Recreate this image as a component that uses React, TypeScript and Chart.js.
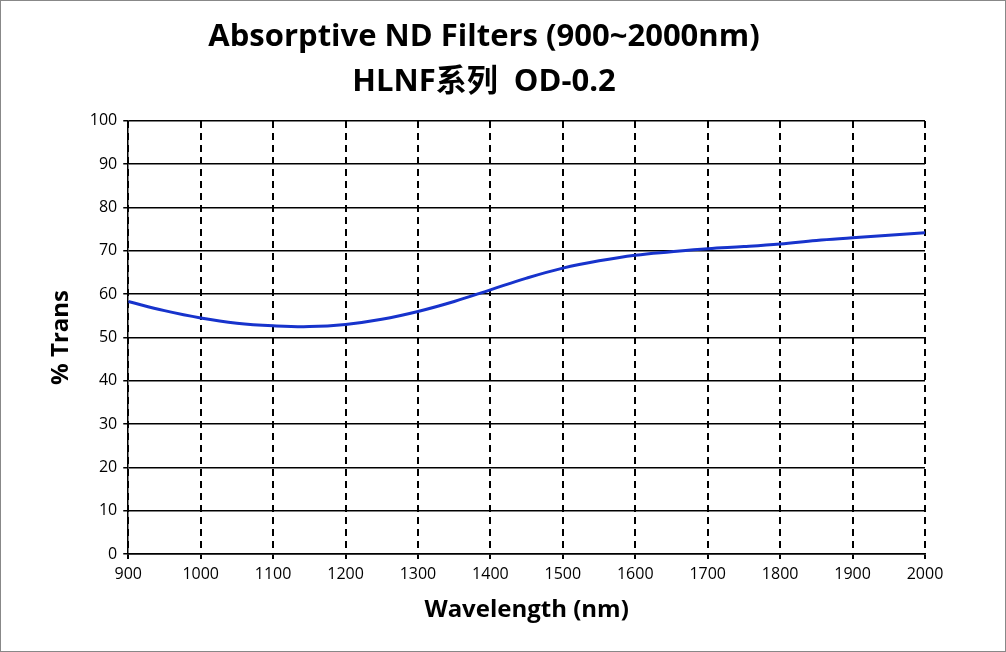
import React, { useEffect, useRef } from "react";
import { Chart, registerables } from "chart.js";
Chart.register(...registerables);

const wavelengths = [900, 950, 1000, 1050, 1100, 1150, 1200, 1250, 1300, 1350, 1400, 1450, 1500, 1550, 1600, 1650, 1700, 1750, 1800, 1850, 1900, 1950, 2000];
const trans = [58.3, 56.2, 54.5, 53.3, 52.7, 52.5, 53.0, 54.2, 56.0, 58.3, 61.0, 63.7, 66.0, 67.7, 69.0, 69.8, 70.5, 71.0, 71.6, 72.4, 73.0, 73.6, 74.2];
const titleLines = ["Absorptive ND Filters (900~2000nm)", "HLNF系列  OD-0.2"];

export default function App() {
  const ref = useRef<HTMLCanvasElement>(null);
  useEffect(() => {
    const font = '"Open Sans", "Noto Sans CJK SC", sans-serif';
    const chart = new Chart(ref.current!, {
      type: "line",
      data: {
        datasets: [{
          data: wavelengths.map((x, i) => ({ x, y: trans[i] })),
          borderColor: "#1733cc",
          borderWidth: 3,
          pointRadius: 0,
          tension: 0.4,
        }],
      },
      options: {
        animation: false,
        responsive: false,
        layout: { padding: { left: 42, right: 80, top: 14, bottom: 22 } },
        plugins: {
          legend: { display: false },
          tooltip: { enabled: false },
          title: {
            display: true,
            text: titleLines,
            color: "#000",
            font: { family: font, size: 31, weight: "bold", lineHeight: 1.45 },
            padding: { top: 0, bottom: 16 },
          },
        },
        scales: {
          x: {
            type: "linear", min: 900, max: 2000,
            ticks: { stepSize: 100, color: "#000", font: { family: font, size: 16 }, padding: 6, callback: (v: any) => String(v) },
            grid: { color: "#000", lineWidth: 2, tickLength: 5, tickColor: "#000" },
            border: { color: "#000", width: 1.5, dash: [7, 5] },
            title: { display: true, text: "Wavelength (nm)", color: "#000", font: { family: font, size: 24, weight: "bold" }, padding: { top: 6 } },
          },
          y: {
            min: 0, max: 100,
            ticks: { stepSize: 10, color: "#000", font: { family: font, size: 16 }, padding: 6 },
            grid: { color: "#000", lineWidth: 1.5, tickLength: 5 },
            border: { color: "#000", width: 1.5 },
            title: { display: true, text: "% Trans", color: "#000", font: { family: font, size: 24, weight: "bold" }, padding: { bottom: 8 } },
          },
        },
      },
    } as any);
    return () => chart.destroy();
  }, []);
  return (
    <div style={{ position: "fixed", left: 0, top: 0, width: 1004, height: 650, border: "1px solid #888", background: "#fff" }}>
      <canvas ref={ref} width={1004} height={650} />
    </div>
  );
}
